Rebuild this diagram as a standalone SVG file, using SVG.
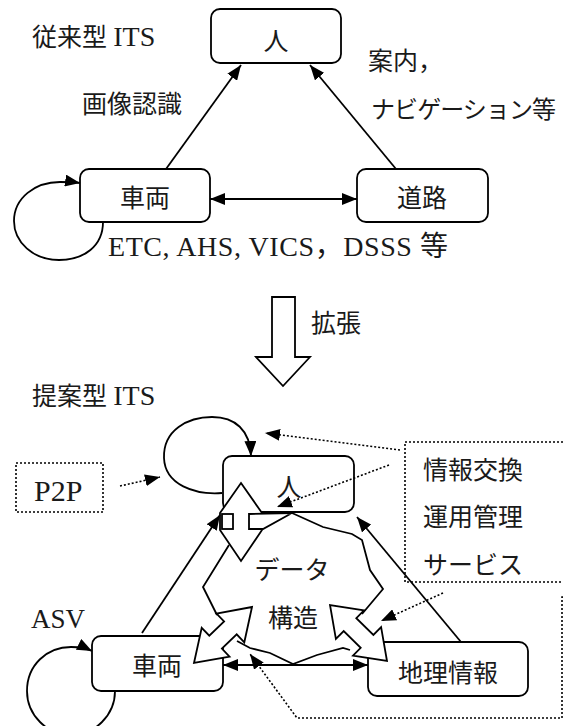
<svg xmlns="http://www.w3.org/2000/svg" width="563" height="726" viewBox="0 0 563 726">
<defs>
<style>
.t{font-family:"Liberation Serif","Noto Sans CJK JP",serif;font-size:25px;fill:#1a1a1a}
.m{text-anchor:middle}
.lat{font-size:28px}
.box{fill:#fff;stroke:#000;stroke-width:1.8}
.ln{fill:none;stroke:#000;stroke-width:1.8}
.dot{fill:none;stroke:#000;stroke-width:1.6;stroke-dasharray:2 2}
.blk{fill:#fff;stroke:#000;stroke-width:1.8;stroke-linejoin:miter}
</style>
<marker id="ah" markerUnits="userSpaceOnUse" markerWidth="16" markerHeight="12" refX="15" refY="6" orient="auto">
<path d="M0,0 L15,6 L0,12 z" fill="#000"/>
</marker>
<marker id="as" markerUnits="userSpaceOnUse" markerWidth="16" markerHeight="12" refX="0" refY="6" orient="auto">
<path d="M15,0 L0,6 L15,12 z" fill="#000"/>
</marker>
</defs>
<rect width="563" height="726" fill="#fff"/>

<!-- top section labels -->
<text class="t" x="32" y="46">従来型 <tspan class="lat">ITS</tspan></text>
<text class="t" x="82" y="113">画像認識</text>
<text class="t" x="368" y="70">案内，</text>
<text class="t" x="371" y="118" style="font-size:24px" textLength="185" lengthAdjust="spacing">ナビゲーション等</text>
<text class="t" x="108" y="256" style="font-size:28px" textLength="340" lengthAdjust="spacing">ETC, AHS, VICS，DSSS 等</text>

<g id="node-hito-top">
<rect class="box" x="211" y="9" width="130" height="54" rx="9"/>
<text class="t m" x="276" y="50">人</text>
</g>
<g id="node-sharyo-top">
<rect class="box" x="80" y="169" width="130" height="53" rx="9"/>
<text class="t m" x="145" y="207">車両</text>
</g>
<g id="node-doro-top">
<rect class="box" x="357" y="169" width="131" height="53" rx="9"/>
<text class="t m" x="422" y="207">道路</text>
</g>

<g id="expand-arrow">
<polygon class="blk" points="272,297 295,297 295,357 310,357 283,386 256,357 272,357"/>
<text class="t" x="311" y="332">拡張</text>
</g>

<text class="t" x="32" y="405">提案型 <tspan class="lat">ITS</tspan></text>

<!-- bottom section nodes -->
<g id="node-hito">
<rect class="box" x="223" y="456" width="131" height="56" rx="9"/>
<text class="t m" x="289" y="496">人</text>
</g>
<g id="node-sharyo">
<rect class="box" x="92" y="636" width="131" height="55" rx="9"/>
<text class="t m" x="157" y="675">車両</text>
</g>
<g id="node-chiri">
<rect class="box" x="368" y="642" width="160" height="54" rx="9"/>
<text class="t m" x="448" y="682">地理情報</text>
</g>
<g id="node-p2p">
<rect class="dot" x="16" y="463" width="87" height="49"/>
<text class="t" x="34" y="501" style="font-size:30px">P2P</text>
</g>
<g id="node-service">
<rect class="dot" x="405" y="442" width="200" height="140"/>
<text class="t" x="423" y="479">情報交換</text>
<text class="t" x="423" y="526">運用管理</text>
<text class="t" x="423" y="574">サービス</text>
</g>
<text class="t" x="31" y="628" style="font-size:27px">ASV</text>

<g id="node-data">
<polygon class="blk" points="241,483 262,513 262,530 241,561 220,530 220,513"/>
<rect class="blk" x="222" y="514" width="11" height="15"/>
<polygon class="blk" points="249,514 292,513 263,529 249,529"/>
<polyline class="ln" points="229,545 203,587 217,615"/>
<polyline class="ln" points="292,513 323,527 352,534 362,540 370,570 383,589 362,614"/>
<polyline class="ln" points="237,641 250,648 270,653 293,664 317,655 343,648 350,650"/>
<polygon class="blk" points="252,607 244.3,642.3 236.7,634.3 221.9,648.6 229.5,656.6 194,663 201.7,627.8 209.3,635.7 224.1,621.4 216.5,613.5"/>
<polygon class="blk" points="330,605 335.9,638.9 343.7,631 360.7,647.8 353,655.6 387,661 381.1,627.1 373.4,635 356.3,618.2 364,610.4"/>
<text class="t m" x="292" y="579">データ</text>
<text class="t m" x="293" y="627">構造</text>
</g>

<g id="connectors">
<!-- top -->
<line class="ln" x1="166" y1="169" x2="241" y2="65" marker-end="url(#ah)"/>
<line class="ln" x1="396" y1="169" x2="310" y2="65" marker-end="url(#ah)"/>
<line class="ln" x1="210" y1="199" x2="357" y2="199" marker-start="url(#as)" marker-end="url(#ah)"/>
<path class="ln" d="M103,222 C103,246 84,260 59,260 C33,260 14,242 14,221 C14,198 35,182 60,182 C68,182 74,182 80,183" marker-end="url(#ah)"/>
<!-- bottom -->
<line class="ln" x1="142" y1="633" x2="220" y2="515" marker-end="url(#ah)"/>
<line class="ln" x1="461" y1="642" x2="357" y2="517" marker-end="url(#ah)"/>
<line class="ln" x1="223" y1="665" x2="368" y2="665" marker-start="url(#as)" marker-end="url(#ah)"/>
<path class="ln" d="M115,691 C115,715 95,735 71,735 C47,735 27,715 27,691 C27,665 47,647 71,647 C80,647 86,648 92,651" marker-end="url(#ah)"/>
<path class="ln" d="M222,493 C195,495 165,485 164,458 C163,430 188,417 212,417 C235,417 250,430 251,456" marker-end="url(#ah)"/>
<!-- dotted -->
<line class="dot" x1="120" y1="486" x2="160" y2="477" marker-end="url(#ah)"/>
<line class="dot" x1="400" y1="450" x2="265" y2="433" marker-end="url(#ah)"/>
<line class="dot" x1="389" y1="465" x2="277" y2="507" marker-end="url(#ah)"/>
<line class="dot" x1="443" y1="593" x2="381" y2="621" marker-end="url(#ah)"/>
<path class="dot" d="M563,597 L562,597 L562,718 L297,718 L250,654" marker-end="url(#ah)"/>
</g>
</svg>
